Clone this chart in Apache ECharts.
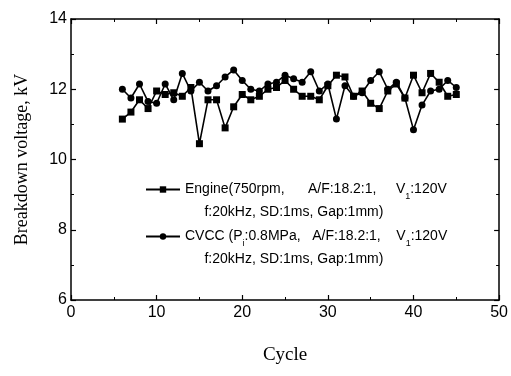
<!DOCTYPE html>
<html><head><meta charset="utf-8">
<script src="https://cdn.jsdelivr.net/npm/echarts@6/dist/echarts.min.js"></script>
<style>html,body{margin:0;padding:0;background:#fff}#c{width:511px;height:376px}</style>
</head><body><div id="c"></div>
<script>
const cycles = [6,7,8,9,10,11,12,13,14,15,16,17,18,19,20,21,22,23,24,25,26,27,28,29,30,31,32,33,34,35,36,37,38,39,40,41,42,43,44,45];
const engine = [11.15,11.35,11.7,11.45,11.95,11.85,11.9,11.8,12.05,10.45,11.7,11.7,10.9,11.5,11.85,11.7,11.8,12.0,12.05,12.25,12.0,11.8,11.8,11.7,12.1,12.4,12.35,11.8,11.95,11.6,11.45,11.95,12.15,11.75,12.4,11.9,12.45,12.2,11.8,11.85];
const cvcc = [12.0,11.75,12.15,11.65,11.6,12.15,11.7,12.45,11.95,12.2,11.95,12.1,12.35,12.55,12.25,12.0,11.95,12.15,12.2,12.4,12.3,12.2,12.5,11.95,12.15,11.15,12.1,11.8,11.9,12.25,12.5,12.0,12.2,11.75,10.85,11.55,11.95,12.0,12.25,12.05];
const xTicks = [0,10,20,30,40,50];
const yTicks = [6,8,10,12,14];
const engineLabel = ['Engine(750rpm,      A/F:18.2:1,     V{sub|1}:120V', '     f:20kHz, SD:1ms, Gap:1mm)'];
const cvccLabel = ['CVCC (P{sub|i}:0.8MPa,   A/F:18.2:1,    V{sub|1}:120V', '     f:20kHz, SD:1ms, Gap:1mm)'];

const chart = echarts.init(document.getElementById('c'));
const axisCommon = {
  axisLine:{show:true, onZero:false, lineStyle:{color:'#000', width:1.5}},
  axisTick:{show:true, inside:true, length:5, lineStyle:{color:'#000', width:1.2}},
  minorTick:{show:true, splitNumber:2, length:3, lineStyle:{color:'#000', width:1}},
  splitLine:{show:false}
};
const richText = {
  fontFamily:'Liberation Sans', fontSize:14, color:'#000', lineHeight:23,
  rich:{ sub:{fontSize:9, verticalAlign:'bottom', lineHeight:18, padding:[6,0,0,0], fontFamily:'Liberation Sans', color:'#000'} }
};
function mk(lines){ return ' \n' + lines[0] + '\n' + lines[1]; }
chart.setOption({
  animation:false,
  grid:{left:71, right:8, top:19, bottom:76},
  legend:[
    {data:['Engine'], left:140, top:150, orient:'vertical', itemWidth:34, itemHeight:8,
     formatter:()=>mk(engineLabel), textStyle:richText},
    {data:['CVCC'], left:140, top:197, orient:'vertical', itemWidth:34, itemHeight:8,
     formatter:()=>mk(cvccLabel), textStyle:richText}
  ],
  xAxis:[
    Object.assign({type:'value', min:xTicks[0], max:xTicks[xTicks.length-1], interval:10, position:'bottom',
      name:'Cycle', nameLocation:'middle', nameGap:46,
      nameTextStyle:{fontFamily:'Liberation Serif', fontSize:19, color:'#000'},
      axisLabel:{margin:5, fontFamily:'Liberation Sans', fontSize:16, color:'#000'}}, axisCommon),
    Object.assign({type:'value', min:0, max:50, interval:10, position:'top', axisLabel:{show:false}}, axisCommon)
  ],
  yAxis:[
    Object.assign({type:'value', min:yTicks[0], max:yTicks[yTicks.length-1], interval:2, position:'left',
      name:'Breakdown voltage, kV', nameLocation:'middle', nameGap:40,
      nameTextStyle:{fontFamily:'Liberation Serif', fontSize:18, color:'#000'},
      axisLabel:{margin:4, fontFamily:'Liberation Sans', fontSize:16, color:'#000'}}, axisCommon),
    Object.assign({type:'value', min:6, max:14, interval:2, position:'right', axisLabel:{show:false}}, axisCommon)
  ],
  series:[
    {name:'Engine', type:'line', data:cycles.map((c,i)=>[c,engine[i]]), symbol:'rect', symbolSize:7,
     showAllSymbol:true, lineStyle:{color:'#000', width:1.6}, itemStyle:{color:'#000'}},
    {name:'CVCC', type:'line', data:cycles.map((c,i)=>[c,cvcc[i]]), symbol:'circle', symbolSize:7,
     showAllSymbol:true, lineStyle:{color:'#000', width:1.6}, itemStyle:{color:'#000'}}
  ]
});
</script></body></html>
